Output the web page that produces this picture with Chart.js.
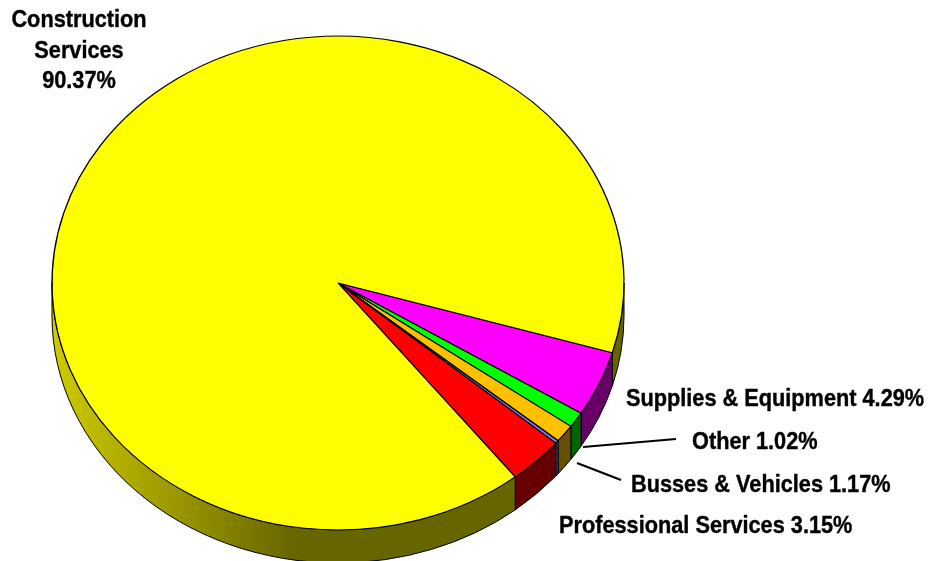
<!DOCTYPE html>
<html>
<head>
<meta charset="utf-8">
<style>
html,body{margin:0;padding:0;background:#fff;overflow:hidden}
#wrap{width:936px;height:561px;position:relative}
</style>
<script src="https://cdn.jsdelivr.net/npm/chart.js@4"></script>
</head>
<body>
<div id="wrap"><canvas id="c" width="936" height="561"></canvas></div>
<script>
const categories = ["Supplies & Equipment","Other","Busses & Vehicles","(unlabelled sliver)","Professional Services","Construction Services"];
const shares = [4.29,1.02,1.17,0.2,3.15,90.37];
const faceColors = ["#ff00ff","#00ff00","#ffc000","#7f7fff","#ff0000","#ffff00"];
const wallColors = ["#660066","#006600","#665000","#44447f","#660000",null];

const SQUASH = 0.8636, DEPTH = 33;
const labelLayout = [
  {lines:["Supplies & Equipment 4.29%"], x:626, y:406},
  {lines:["Other 1.02%"], x:692, y:449},
  {lines:["Busses & Vehicles 1.17%"], x:631, y:492},
  {lines:["Professional Services 3.15%"], x:559, y:533},
  {lines:["Construction","Services","90.37%"], cx:79, y:27, lh:30.5}
];
const leaders = [[583,447,676,439],[577,463,621,480]];

const squashPie = {
  id:'squashPie',
  beforeDatasetsDraw(chart){
    const ctx = chart.ctx, arcs = chart.getDatasetMeta(0).data;
    const cx = arcs[0].x, cy = arcs[0].y, r = arcs[0].outerRadius, ry = r*SQUASH;
    const grad = ctx.createLinearGradient(cx-r,0,cx,0);
    grad.addColorStop(0,'#cfcb00');
    grad.addColorStop(0.3,'#aaa700');
    grad.addColorStop(0.6,'#868300');
    grad.addColorStop(0.85,'#666600');
    grad.addColorStop(1,'#666600');
    const TAU = Math.PI*2;
    arcs.forEach((a,i)=>{
      [[0,Math.PI],[TAU,TAU+Math.PI]].forEach(([lo,hi])=>{
        const s = Math.max(a.startAngle,lo), e = Math.min(a.endAngle,hi);
        if(e<=s) return;
        ctx.save();
        ctx.beginPath();
        ctx.ellipse(cx,cy,r,ry,0,s,e,false);
        ctx.ellipse(cx,cy+DEPTH,r,ry,0,e,s,true);
        ctx.closePath();
        ctx.fillStyle = wallColors[i] || grad;
        ctx.fill();
        ctx.lineWidth = 1;
        ctx.strokeStyle = '#000';
        ctx.stroke();
        ctx.restore();
      });
    });
    ctx.save();
    ctx.translate(cx,cy); ctx.scale(1,SQUASH); ctx.translate(-cx,-cy);
  },
  afterDatasetsDraw(chart){
    chart.ctx.restore();
  },
  afterDraw(chart){
    const ctx = chart.ctx;
    ctx.save();
    ctx.strokeStyle='#000'; ctx.lineWidth=2;
    leaders.forEach(l=>{ctx.beginPath();ctx.moveTo(l[0],l[1]);ctx.lineTo(l[2],l[3]);ctx.stroke();});
    ctx.fillStyle='#000';
    ctx.font='bold 24px "Liberation Sans"';
    ctx.textBaseline='alphabetic';
    ctx.lineWidth=0.4;
    ctx.lineJoin='round';
    const sx = 0.905;
    labelLayout.forEach(L=>{
      L.lines.forEach((t,k)=>{
        const w = ctx.measureText(t).width*sx;
        const x = L.cx!==undefined ? L.cx-w/2 : L.x;
        const y = L.y+k*(L.lh||0);
        ctx.save();
        ctx.translate(x,y); ctx.scale(sx,1);
        ctx.textAlign='left';
        ctx.fillText(t,0,0);
        ctx.strokeText(t,0,0);
        ctx.restore();
      });
    });
    ctx.restore();
  }
};

new Chart(document.getElementById('c'),{
  type:'pie',
  data:{labels:categories,datasets:[{data:shares,backgroundColor:faceColors,borderColor:'#000',borderWidth:1.3}]},
  options:{
    responsive:false,animation:false,
    rotation:106.4,
    radius:286,
    layout:{padding:{left:0,right:260,top:5,bottom:0}},
    plugins:{legend:{display:false},tooltip:{enabled:false},title:{display:false}}
  },
  plugins:[squashPie]
});
</script>
</body>
</html>
